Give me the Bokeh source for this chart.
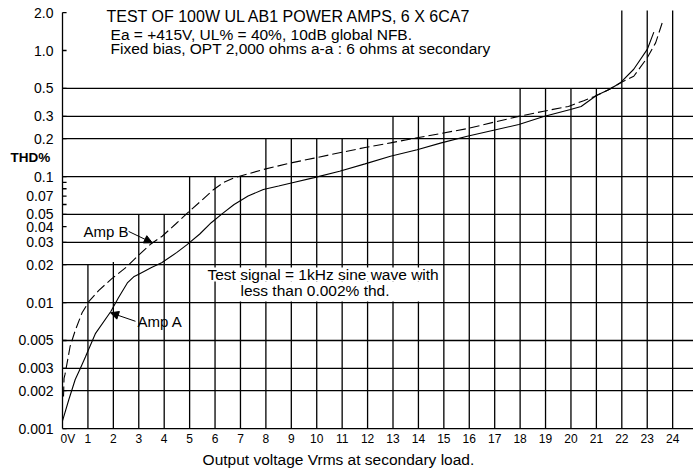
from bokeh.plotting import figure
from bokeh.models import Range1d, Label, Arrow, NormalHead, BoxAnnotation
from bokeh.core.properties import value
from bokeh.embed import file_html
from bokeh.resources import INLINE

# ---- data ----
amp_a_v = [0, 0.25, 0.5, 0.7, 0.9, 1.3, 1.9, 2.2, 2.55, 2.8, 3.0, 3.5, 3.9, 4.5, 4.9, 5.4,
           5.85, 6.3, 6.75, 7.3, 7.9, 8.5, 9.0, 9.9, 10.9, 11.9, 12.9, 13.95, 14.9, 15.92,
           17.0, 17.95, 18.93, 19.98, 20.4, 21.0, 21.5, 21.95, 22.47, 23.0, 23.26]
amp_a_thd = [0.00115, 0.0017, 0.00245, 0.003, 0.0037, 0.0057, 0.0085, 0.0109, 0.0143, 0.016,
             0.0168, 0.019, 0.0207, 0.025, 0.0288, 0.035, 0.043, 0.051, 0.060, 0.070, 0.079,
             0.084, 0.089, 0.098, 0.110, 0.126, 0.145, 0.163, 0.185, 0.209, 0.234, 0.259,
             0.30, 0.34, 0.36, 0.44, 0.49, 0.555, 0.71, 1.02, 1.40]

amp_b_v = [0.04, 0.06, 0.1, 0.3, 0.5, 0.77, 1.04, 1.43, 1.93, 2.5, 2.92, 3.46, 3.92, 4.45,
           4.92, 5.45, 5.95, 6.35, 6.74, 7.3, 7.92, 8.97, 9.9, 10.94, 11.9, 12.9, 13.95,
           14.9, 15.92, 16.97, 17.95, 18.93, 19.9, 20.5, 20.9, 21.5, 21.95, 22.47, 23.0,
           23.33, 23.59]
amp_b_thd = [0.0018, 0.0025, 0.0027, 0.0045, 0.006, 0.0083, 0.0102, 0.0125, 0.0154, 0.019,
             0.023, 0.029, 0.0336, 0.042, 0.0515, 0.064, 0.079, 0.090, 0.0976, 0.105, 0.114,
             0.128, 0.14, 0.155, 0.17, 0.185, 0.203, 0.22, 0.24, 0.27, 0.30, 0.33, 0.36,
             0.40, 0.43, 0.49, 0.555, 0.625, 0.875, 1.15, 1.66]

x_ticks = list(range(0, 25))
x_tick_labels = ["0V"] + [str(i) for i in range(1, 25)]
y_ticks = [0.001, 0.002, 0.003, 0.005, 0.01, 0.02, 0.03, 0.04, 0.05, 0.07, 0.1, 0.2, 0.3,
           0.5, 1.0, 2.0]
y_tick_labels = ["0.001", "0.002", "0.003", "0.005", "0.01", "0.02", "0.03", "0.04", "0.05",
                 "0.07", "0.1", "0.2", "0.3", "0.5", "1.0", "2.0"]
y_minor = [0.06, 0.08, 0.09]

# plotting area: 0..24.82 V, 0.001..2.08 % (frame extends past these for the labels)
X_END = 24.82
X0 = -2.439
Y_MIN, Y_MAX = 0.001, 2.08
Y_LO, Y_HI = 0.00044, 2.494

# staircase grid: vertical lines at each volt up to a given THD level
vgrid_x = list(range(1, 25))
vgrid_top = [0.02, 0.021, 0.05, 0.05, 0.1, 0.1, 0.1, 0.2, 0.2, 0.2, 0.2, 0.2, 0.3, 0.3,
             0.3, 0.3, 0.3, 0.5, 0.5, 0.5, 0.5, Y_MAX, Y_MAX, Y_MAX]
hgrid_y = [0.001, 0.002, 0.003, 0.005, 0.01, 0.02, 0.03, 0.05, 0.1, 0.2, 0.3, 0.5]

FONT = "Liberation Sans"
LW = 1.3

p = figure(width=693, height=473, x_range=Range1d(X0, X_END), y_range=Range1d(Y_LO, Y_HI),
           y_axis_type="log", x_axis_location=None, y_axis_location=None,
           output_backend="svg", toolbar_location=None,
           min_border_left=0, min_border_right=0, min_border_top=0, min_border_bottom=0)
p.outline_line_color = None
p.xgrid.visible = False
p.ygrid.visible = False
p.background_fill_color = "white"
p.border_fill_color = "white"

# grid
p.segment(x0=vgrid_x, y0=[Y_MIN] * len(vgrid_x), x1=vgrid_x, y1=vgrid_top,
          line_color="black", line_width=LW)
p.segment(x0=[0] * len(hgrid_y), y0=hgrid_y, x1=[X_END] * len(hgrid_y), y1=hgrid_y,
          line_color="black", line_width=LW)

# left axis: line, inward ticks, labels
p.segment(x0=[0], y0=[Y_MIN], x1=[0], y1=[y_ticks[-1]], line_color="black", line_width=LW)
all_ticks = y_ticks + y_minor
p.segment(x0=[0] * len(all_ticks), y0=all_ticks, x1=[0.16] * len(all_ticks), y1=all_ticks,
          line_color="black", line_width=LW)
p.text(x=[0] * len(y_ticks), y=y_ticks, text=y_tick_labels, x_offset=-9,
       text_align="right", text_baseline="middle", text_font=value(FONT),
       text_font_size=value("14px"), text_color="black")

# bottom axis labels
p.text(x=x_ticks[1:], y=[Y_MIN] * (len(x_ticks) - 1), text=x_tick_labels[1:], y_offset=10,
       text_align="center", text_baseline="middle", text_font=value(FONT),
       text_font_size=value("12px"), text_color="black")
p.text(x=x_ticks[:1], y=[Y_MIN], text=x_tick_labels[:1], x_offset=-2, y_offset=10,
       text_align="left", text_baseline="middle", text_font=value(FONT),
       text_font_size=value("12px"), text_color="black")

# curves
p.line(amp_a_v, amp_a_thd, line_color="black", line_width=1.1)
p.line(amp_b_v, amp_b_thd, line_color="black", line_width=1.1, line_dash="10 4")

# white boxes behind the test-signal note
p.add_layout(BoxAnnotation(left=5.63, right=14.75, bottom=0.0147, top=0.0190,
                           fill_color="white", fill_alpha=1, line_color=None))
p.add_layout(BoxAnnotation(left=6.92, right=14.08, bottom=0.0102, top=0.0147,
                           fill_color="white", fill_alpha=1, line_color=None))


def lab(x, y, text, size="15.5px", style="normal"):
    p.add_layout(Label(x=x, y=y, text=text, text_font=FONT, text_font_size=size,
                       text_font_style=style, text_baseline="middle", text_align="left",
                       text_color="black"))


lab(1.73, 1.87, "TEST OF 100W UL AB1 POWER AMPS, 6 X 6CA7", size="16px")
lab(1.89, 1.34, "Ea = +415V, UL% = 40%, 10dB global NFB.")
lab(1.89, 1.047, "Fixed bias, OPT 2,000 ohms a-a : 6 ohms at secondary")
lab(-2.05, 0.1416, "THD%", size="13.5px", style="bold")
lab(5.51, 0.000568, "Output voltage Vrms at secondary load.")
lab(5.70, 0.01667, "Test signal = 1kHz sine wave with")
lab(7.0, 0.01245, "less than 0.002% thd.")
lab(0.83, 0.0365, "Amp B", size="15px")
lab(2.95, 0.00706, "Amp A", size="15px")

p.add_layout(Arrow(end=NormalHead(size=8, fill_color="black", line_color="black"),
                   x_start=2.6, y_start=0.0367, x_end=3.53, y_end=0.0298,
                   line_color="black", line_width=1))
p.add_layout(Arrow(end=NormalHead(size=8, fill_color="black", line_color="black"),
                   x_start=2.87, y_start=0.0071, x_end=1.89, y_end=0.0083,
                   line_color="black", line_width=1))

open("out.html", "w").write(file_html(p, INLINE))
